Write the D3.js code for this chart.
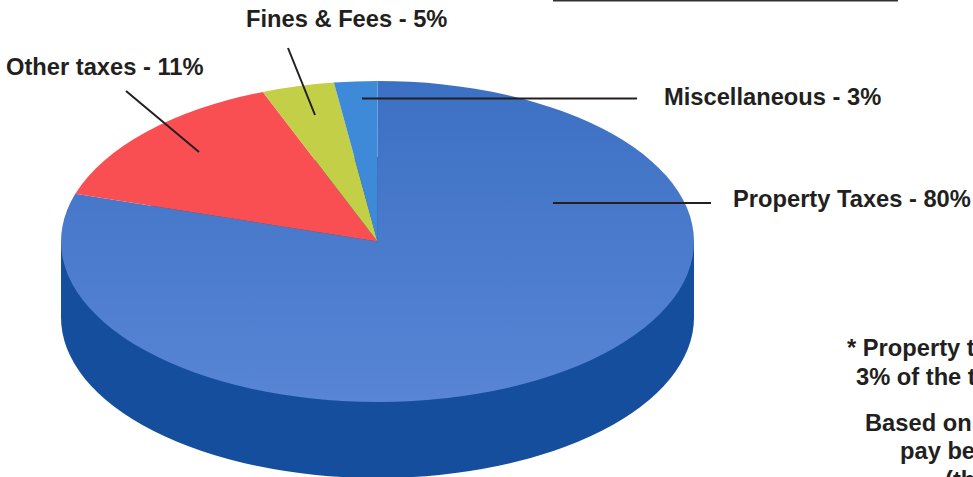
<!DOCTYPE html>
<html><head><meta charset="utf-8">
<script src="https://cdn.jsdelivr.net/npm/d3@7"></script>
<style>html,body{margin:0;padding:0;background:#fff;overflow:hidden}svg{display:block}text{font-family:"Liberation Sans",Arial,sans-serif;font-weight:700;fill:#231f20}</style>
</head><body><svg id="c" width="973" height="477"></svg>
<script>
const categories = ["Property Taxes","Other taxes","Fines & Fees","Miscellaneous"];
const labelPercents = [80,11,5,3];
const drawnShares = [79.8,14.3,3.7,2.2];
const sliceColors = ["url(#top)","#f94f52","#c3cf47","#3f8ad8"];
const labelPos = [[733,207],[6,75],[246,27],[664,105]];
const leaderLines = [[553,203,711,203],[126,91,199,152],[288,48,315,115],[362,98.5,637,98.5]];
const notes = [["* Property t",847,356],["3% of the t",856,385],["Based on",865,431],["pay be",900,459],["(th",945,488]];

const cx=377.5, cy=241.5, rx=316.5, ry=160.5, depth=76;
const svg=d3.select("#c");
const grad=svg.append("defs").append("linearGradient").attr("id","top")
  .attr("gradientUnits","userSpaceOnUse").attr("x1",0).attr("x2",0).attr("y1",-rx).attr("y2",rx);
grad.append("stop").attr("offset",0).attr("stop-color","#3c70c3");
grad.append("stop").attr("offset",1).attr("stop-color","#5885d6");

const disc=d3.arc().innerRadius(0).outerRadius(rx);
const sideColor="#154e9d";
const full={startAngle:0,endAngle:2*Math.PI};
svg.append("g").attr("transform",`translate(${cx},${cy+depth}) scale(1,${ry/rx})`)
  .append("path").attr("d",disc(full)).attr("fill",sideColor);
svg.append("rect").attr("x",cx-rx).attr("y",cy).attr("width",2*rx).attr("height",depth).attr("fill",sideColor);

const pie=d3.pie().sort(null).startAngle(0).endAngle(2*Math.PI);
svg.append("g").attr("transform",`translate(${cx},${cy}) scale(1,${ry/rx})`)
  .selectAll("path").data(pie(drawnShares)).join("path")
  .attr("d",disc).attr("fill",(d,i)=>sliceColors[i]);

svg.append("g").selectAll("line").data(leaderLines).join("line")
  .attr("x1",d=>d[0]).attr("y1",d=>d[1]).attr("x2",d=>d[2]).attr("y2",d=>d[3])
  .attr("stroke","#231f20").attr("stroke-width",2);
svg.append("line").attr("x1",553).attr("x2",898).attr("y1",0.5).attr("y2",0.5).attr("stroke","#333").attr("stroke-width",2);

svg.append("g").selectAll("text").data(categories).join("text")
  .attr("x",(d,i)=>labelPos[i][0]).attr("y",(d,i)=>labelPos[i][1]).attr("font-size",23.7)
  .text((d,i)=>`${d} - ${labelPercents[i]}%`);
svg.append("g").selectAll("text").data(notes).join("text")
  .attr("x",d=>d[1]).attr("y",d=>d[2]).attr("font-size",23.7).text(d=>d[0]);
</script></body></html>
